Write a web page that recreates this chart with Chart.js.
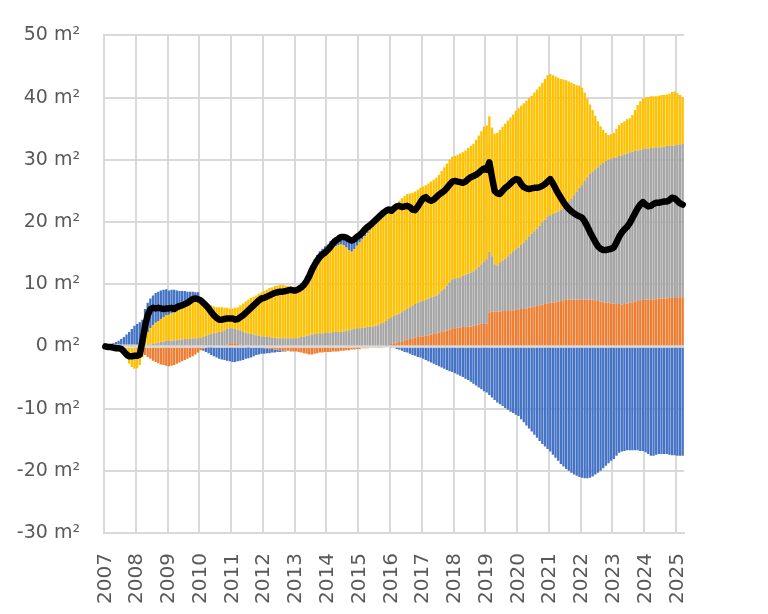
<!DOCTYPE html>
<html>
<head>
<meta charset="utf-8">
<script src="https://cdn.jsdelivr.net/npm/chart.js@4.4.1/dist/chart.umd.min.js"></script>
<style>
  html, body { margin: 0; padding: 0; background: #fff; }
  #wrap { width: 768px; height: 614px; }
</style>
</head>
<body>
<div id="wrap"><canvas id="areaChart" width="768" height="614"></canvas></div>
<script>
// monthly values, Jan 2007 .. Mar 2025 (m²)
var years = ['2007','2008','2009','2010','2011','2012','2013','2014','2015','2016',
             '2017','2018','2019','2020','2021','2022','2023','2024','2025'];

var orange = [
  0,0,0,0,0,0,0,0,0,0,0,0,
  0,-0.5,-1.0,-1.4,-1.7,-2.0,-2.3,-2.5,-2.7,-2.9,-3.0,-3.1,
  -3.2,-3.1,-3.0,-2.8,-2.6,-2.4,-2.2,-2.0,-1.8,-1.6,-1.3,-1.0,
  -0.6,-0.4,-0.2,-0.1,-0.1,0,0,0,0,0.1,0.3,0.4,
  0.5,0.5,0.4,0.3,0.1,0,-0.1,-0.2,-0.2,-0.2,-0.2,-0.2,
  -0.3,-0.3,-0.4,-0.4,-0.5,-0.5,-0.6,-0.6,-0.7,-0.7,-0.8,-0.8,
  -0.8,-0.9,-1.0,-1.1,-1.2,-1.3,-1.3,-1.2,-1.1,-1.0,-1.0,-0.9,
  -0.9,-0.9,-0.8,-0.8,-0.8,-0.7,-0.7,-0.6,-0.6,-0.5,-0.5,-0.4,
  -0.4,-0.3,-0.3,-0.3,-0.2,-0.2,-0.2,-0.1,-0.1,0,0.1,0.2,
  0.4,0.5,0.6,0.7,0.8,1.0,1.1,1.2,1.3,1.4,1.5,1.6,
  1.6,1.7,1.8,1.9,2.0,2.1,2.2,2.3,2.4,2.5,2.7,2.9,
  2.9,3.0,3.0,3.1,3.1,3.2,3.2,3.3,3.4,3.5,3.6,3.6,
  3.7,5.5,5.6,5.6,5.6,5.6,5.7,5.7,5.7,5.8,5.8,5.9,
  5.9,6.0,6.0,6.1,6.2,6.3,6.4,6.5,6.6,6.7,6.8,6.9,
  7.0,7.0,7.1,7.2,7.3,7.4,7.5,7.5,7.5,7.5,7.5,7.5,
  7.5,7.5,7.5,7.5,7.5,7.4,7.3,7.2,7.1,7.0,7.0,6.9,
  6.9,6.8,6.8,6.7,6.8,6.9,7.0,7.1,7.2,7.3,7.4,7.5,
  7.5,7.5,7.6,7.6,7.6,7.7,7.7,7.7,7.7,7.8,7.8,7.8,
  7.9,7.9,7.9
];

var gray = [
  0.1,0.2,0.2,0.3,0.3,0.3,0.3,0.3,0.3,0.3,0.3,0.3,
  0.3,0.3,0.3,0.3,0.3,0.3,0.4,0.5,0.6,0.7,0.8,0.9,
  0.9,0.9,1.0,1.0,1.1,1.1,1.2,1.2,1.2,1.3,1.3,1.3,
  1.4,1.5,1.7,1.9,2.0,2.1,2.2,2.3,2.4,2.5,2.5,2.5,
  2.4,2.3,2.3,2.3,2.3,2.2,2.1,2.0,1.9,1.8,1.7,1.6,
  1.6,1.5,1.5,1.4,1.4,1.3,1.3,1.3,1.3,1.3,1.3,1.3,
  1.3,1.4,1.5,1.6,1.7,1.8,1.9,2.0,2.0,2.1,2.1,2.2,
  2.2,2.2,2.3,2.3,2.3,2.4,2.4,2.5,2.6,2.7,2.8,2.9,
  2.9,3.0,3.0,3.1,3.1,3.2,3.3,3.4,3.6,3.8,4.0,4.2,
  4.3,4.4,4.5,4.6,4.7,4.8,4.9,5.1,5.2,5.4,5.5,5.6,
  5.7,5.8,5.9,6.0,6.0,6.1,6.3,6.6,6.9,7.3,7.6,7.9,
  8.0,8.0,8.1,8.2,8.4,8.5,8.7,8.8,9.0,9.3,9.6,10.0,
  10.3,9.7,8.9,7.6,7.4,7.8,8.1,8.4,8.8,9.1,9.5,9.7,
  10.0,10.3,10.7,11.1,11.5,11.8,12.1,12.4,12.8,13.2,13.6,14.0,
  14.1,14.3,14.4,14.5,14.7,14.9,15.2,15.7,16.2,16.8,17.4,18.0,
  18.4,19.1,19.7,20.2,20.6,21.1,21.5,22.0,22.4,22.8,23.0,23.3,
  23.4,23.6,23.8,24.0,24.1,24.1,24.2,24.2,24.2,24.2,24.2,24.2,
  24.3,24.3,24.3,24.3,24.4,24.3,24.3,24.4,24.5,24.4,24.5,24.5,
  24.5,24.6,24.7
];

var yellow = [
  0,0,0,0,-0.1,-0.2,-0.5,-1.2,-2.0,-2.8,-3.3,-3.6,
  -3.5,-2.5,-0.8,1.0,2.0,2.6,3.0,3.3,3.5,3.7,3.9,4.1,
  4.2,4.4,4.5,4.7,4.8,5.0,5.1,5.3,5.6,5.9,6.1,6.4,
  6.2,5.8,5.3,4.9,4.6,4.3,4.1,4.0,3.9,3.6,3.4,3.2,
  3.2,3.4,3.6,4.0,4.5,5.0,5.4,5.8,6.1,6.4,6.8,7.1,
  7.3,7.6,7.9,8.1,8.3,8.5,8.6,8.6,8.5,8.4,8.4,8.3,
  8.0,8.0,8.1,8.3,8.7,9.3,10.2,10.9,11.5,11.9,12.3,12.6,
  12.8,13.2,13.5,13.8,14.0,14.0,13.9,13.4,12.8,12.5,12.8,13.3,
  13.8,14.2,14.7,15.1,15.6,16.0,16.3,16.6,16.8,17.0,17.1,17.1,
  17.1,17.5,17.9,18.1,18.3,18.4,18.5,18.3,18.2,18.1,18.2,18.3,
  18.4,18.4,18.5,18.6,18.8,18.9,19.1,19.3,19.5,19.6,19.7,19.7,
  19.7,19.8,19.9,19.9,20.0,20.2,20.3,20.5,20.8,21.1,21.4,21.7,
  21.5,21.8,20.7,21.0,21.3,21.4,21.5,21.7,21.8,21.9,22.0,22.3,
  22.4,22.4,22.4,22.3,22.2,22.2,22.3,22.4,22.4,22.5,22.6,22.7,
  22.7,22.3,21.9,21.5,21.0,20.6,20.1,19.4,18.7,17.9,17.1,16.4,
  15.7,14.2,12.6,11.2,9.9,8.6,7.4,6.2,5.3,4.5,4.0,3.9,
  4.0,4.6,5.0,5.2,5.3,5.5,5.5,5.9,6.6,7.3,7.8,8.1,
  8.2,8.3,8.3,8.3,8.2,8.3,8.4,8.3,8.3,8.4,8.6,8.7,
  8.3,7.9,7.5
];

var blue = [
  0,0,0.1,0.2,0.4,0.6,0.9,1.2,1.6,2.0,2.5,3.0,
  3.3,3.6,4.0,4.7,4.7,4.8,4.8,4.8,4.7,4.6,4.4,4.2,
  3.9,3.8,3.6,3.3,3.0,2.8,2.6,2.3,2.0,1.6,1.3,1.0,
  0.3,-0.3,-0.7,-1.0,-1.3,-1.6,-1.8,-2.0,-2.1,-2.2,-2.3,-2.4,
  -2.5,-2.5,-2.4,-2.3,-2.2,-2.0,-1.8,-1.6,-1.4,-1.2,-1.1,-1.0,
  -0.9,-0.8,-0.7,-0.6,-0.5,-0.4,-0.3,-0.2,-0.1,0,0,0,
  0.2,0.4,0.5,0.6,0.8,0.9,1.0,1.1,1.2,1.3,1.3,1.3,
  1.4,1.5,1.5,1.5,1.6,1.6,1.6,1.8,2.0,2.0,1.6,1.4,
  1.4,1.3,1.3,1.2,1.1,1.0,0.9,0.8,0.7,0.6,0.4,0.3,
  -0.1,-0.2,-0.4,-0.5,-0.7,-0.9,-1.0,-1.2,-1.4,-1.5,-1.7,-1.8,
  -2.0,-2.2,-2.4,-2.6,-2.8,-3.0,-3.2,-3.4,-3.6,-3.8,-4.0,-4.1,
  -4.3,-4.5,-4.7,-4.9,-5.2,-5.4,-5.7,-6.0,-6.3,-6.6,-6.9,-7.2,
  -7.4,-7.8,-8.2,-8.6,-9.0,-9.3,-9.6,-9.9,-10.2,-10.5,-10.7,-11.0,
  -11.2,-11.7,-12.2,-12.7,-13.2,-13.7,-14.2,-14.7,-15.2,-15.7,-16.1,-16.5,
  -16.9,-17.4,-17.9,-18.4,-18.9,-19.3,-19.7,-20.0,-20.3,-20.6,-20.8,-21.0,
  -21.1,-21.2,-21.2,-21.1,-20.9,-20.6,-20.3,-20.0,-19.6,-19.2,-18.8,-18.4,
  -18.1,-17.6,-17.1,-16.9,-16.8,-16.7,-16.7,-16.7,-16.7,-16.7,-16.8,-16.8,
  -17.0,-17.3,-17.6,-17.6,-17.4,-17.3,-17.3,-17.3,-17.3,-17.4,-17.5,-17.5,
  -17.6,-17.6,-17.6
];

var net = [
  0,-0.1,-0.1,-0.2,-0.3,-0.3,-0.4,-0.8,-1.3,-1.6,-1.6,-1.5,
  -1.5,-1.3,0.8,3.3,5.0,6.0,6.2,6.1,6.2,6.1,6.0,6.1,
  6.1,6.2,6.0,6.3,6.5,6.6,6.8,7.0,7.3,7.6,7.7,7.6,
  7.4,7.0,6.6,6.1,5.5,5.0,4.6,4.3,4.3,4.4,4.5,4.5,
  4.5,4.3,4.4,4.7,5.0,5.4,5.8,6.2,6.6,7.0,7.4,7.7,
  7.8,8.0,8.2,8.4,8.6,8.7,8.8,8.8,8.9,9.0,9.1,9.0,
  9.0,9.2,9.5,9.9,10.5,11.3,12.3,13.1,13.8,14.4,14.8,15.1,
  15.5,16.0,16.6,17.0,17.3,17.6,17.6,17.5,17.2,17.0,17.2,17.6,
  17.9,18.3,18.8,19.2,19.5,19.9,20.3,20.7,21.1,21.5,21.8,22.0,
  21.8,22.2,22.5,22.6,22.4,22.5,22.6,22.4,22.0,21.9,22.5,23.2,
  23.8,24.0,23.6,23.4,23.6,24.0,24.4,24.7,25.0,25.5,26.0,26.5,
  26.6,26.5,26.4,26.3,26.5,26.9,27.2,27.4,27.6,27.9,28.3,28.6,
  28.4,29.6,27.2,25.0,24.6,24.5,25.0,25.5,25.8,26.2,26.6,26.9,
  26.8,26.1,25.6,25.4,25.3,25.4,25.5,25.5,25.6,25.8,26.1,26.5,
  26.9,26.2,25.4,24.6,23.9,23.2,22.6,22.1,21.7,21.4,21.1,20.9,
  20.7,20.1,19.3,18.4,17.6,16.8,16.1,15.7,15.5,15.5,15.6,15.7,
  15.9,16.7,17.6,18.3,18.8,19.2,19.8,20.6,21.4,22.2,22.8,23.2,
  22.8,22.5,22.6,22.9,23.1,23.1,23.2,23.3,23.3,23.5,23.9,23.8,
  23.4,23.0,22.8
];

var months = orange.map(function(_, i){
  return years[Math.floor(i / 12)] + '-' + (i % 12 + 1);
});

(function(){
  var el = document.getElementById('areaChart');
  if (!el || typeof Chart === 'undefined') { return; }

  var textColor = '#595959';
  var gridColor = '#d9d9d9';

  function barSet(arr, color){
    return {
      type: 'bar', data: arr, backgroundColor: color, borderWidth: 0,
      barPercentage: 1, categoryPercentage: 0.87, order: 1
    };
  }

  function yearLines(chart){
    var ctx = chart.ctx, a = chart.chartArea, xs = chart.scales.x;
    var half = (xs.getPixelForValue(1) - xs.getPixelForValue(0)) / 2;
    ctx.strokeStyle = gridColor;
    ctx.lineWidth = 2;
    for (var i = 0; i < months.length; i += 12) {
      var px = Math.round(xs.getPixelForValue(i) - half);
      ctx.beginPath(); ctx.moveTo(px, a.top); ctx.lineTo(px, a.bottom); ctx.stroke();
    }
  }

  // year grid lines behind the bars, light zero line over the bars (under the black line)
  var gridExtras = {
    id: 'gridExtras',
    beforeDatasetsDraw: function(chart){
      chart.ctx.save(); yearLines(chart); chart.ctx.restore();
    },
    afterDatasetDraw: function(chart, args){
      if (args.index !== 1) return;
      var ctx = chart.ctx, a = chart.chartArea;
      var y = chart.scales.y.getPixelForValue(0);
      ctx.save();
      ctx.strokeStyle = gridColor;
      ctx.lineWidth = 2;
      ctx.beginPath(); ctx.moveTo(a.left, y); ctx.lineTo(a.right, y); ctx.stroke();
      // paint the year lines behind whatever is already drawn
      ctx.globalCompositeOperation = 'destination-over';
      yearLines(chart);
      ctx.restore();
    }
  };

  new Chart(el.getContext('2d'), {
    type: 'bar',
    data: {
      labels: months,
      datasets: [
        {
          type: 'line', data: net, stack: 'net', order: 0,
          borderColor: '#000000', borderWidth: 6.5, pointRadius: 0,
          borderJoinStyle: 'round', borderCapStyle: 'round'
        },
        barSet(orange, '#ED7D31'),
        barSet(gray, '#A5A5A5'),
        barSet(yellow, '#FFC000'),
        barSet(blue, '#4472C4')
      ]
    },
    options: {
      responsive: false,
      animation: false,
      devicePixelRatio: 1,
      layout: { padding: { top: 32, right: 84, bottom: 0, left: 0 } },
      plugins: { legend: { display: false }, tooltip: { enabled: false } },
      scales: {
        x: {
          stacked: true, offset: true,
          grid: { display: false },
          border: { color: gridColor, width: 2 },
          ticks: {
            autoSkip: false, minRotation: 90, maxRotation: 90, padding: 12,
            color: textColor, font: { family: 'DejaVu Sans', size: 20 },
            callback: function(v, i){ return i % 12 === 0 ? years[i / 12] : ''; }
          },
          afterFit: function(s){ s.height = 81; }
        },
        y: {
          min: -30, max: 50, stacked: true,
          grid: { color: gridColor, lineWidth: 2, drawTicks: false },
          border: { color: gridColor, width: 2 },
          ticks: {
            stepSize: 10, padding: 24, color: textColor,
            font: { family: 'DejaVu Sans', size: 19 },
            callback: function(v){ return v + ' m²'; }
          },
          afterFit: function(s){ s.width = 104; }
        }
      }
    },
    plugins: [gridExtras]
  });
})();
</script>
</body>
</html>
